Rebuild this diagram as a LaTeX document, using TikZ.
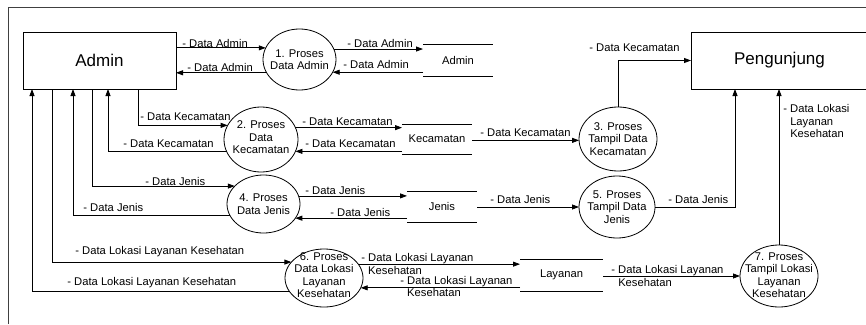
\documentclass[tikz,border=0pt]{standalone}
\usepackage{fontspec}
\setmainfont{Liberation Sans}
\usetikzlibrary{arrows.meta,positioning,shapes.geometric}
\newcommand{\lblfont}{\fontsize{11.2}{12.5}\selectfont}
\newcommand{\entfont}{\fontsize{17}{20}\selectfont}

\begin{document}
\begin{tikzpicture}[
  x=1pt, y=-1pt,
  line width=0.8pt,
  entity/.style={
    draw, rectangle, minimum height=57pt, font=\entfont,
    inner sep=0pt, outer sep=0pt,
  },
  proc/.style={draw, ellipse, inner sep=0pt, outer sep=0pt},
  ptext/.style={align=center, font=\lblfont, inner sep=0pt},
  store/.style={minimum width=70pt, inner sep=0pt, outer sep=0pt, font=\lblfont},
  lbl/.style={anchor=west, align=left, font=\lblfont, inner sep=0pt},
  flow/.style={-{Triangle[length=7pt,width=5pt]}},
]
\useasboundingbox (0,0) rectangle (866,324);
\clip (0,0) rectangle (866,324);

% frame
\draw[black!75] (8,324) -- (8,7) -- (866,7);

% entities
\node[entity, minimum width=153pt] (admin) at (99.5,60.5) {Admin};
\node[entity, minimum width=177pt] (peng) at (779.5,60.5) {Pengunjung};

% processes
\node[proc, minimum width=73pt, minimum height=61pt] (p1) at (299.5,59.5) {};
\node[proc, minimum width=74pt, minimum height=65pt] (p2) at (261,139.5) {};
\node[proc, minimum width=78pt, minimum height=64pt] (p3) at (618,139) {};
\node[proc, minimum width=73pt, minimum height=58pt] (p4) at (263.5,204) {};
\node[proc, minimum width=76pt, minimum height=62pt] (p5) at (617,207) {};
\node[proc, minimum width=78pt, minimum height=58pt] (p6) at (324,278) {};
\node[proc, minimum width=78pt, minimum height=62pt] (p7) at (779,276) {};

\node[ptext] (p1t) at (p1) {1. Proses\\Data Admin};
\node[ptext] (p2t) at ([yshift=2pt]p2) {2. Proses\\Data\\Kecamatan};
\node[ptext] (p3t) at (p3) {3. Proses\\Tampil Data\\Kecamatan};
\node[ptext] (p4t) at (p4) {4. Proses\\Data Jenis};
\node[ptext] (p5t) at (p5) {5. Proses\\Tampil Data\\Jenis};
\node[ptext] (p6t) at ([yshift=3pt]p6) {6. Proses\\Data Lokasi\\Layanan\\Kesehatan};
\node[ptext] (p7t) at ([yshift=1pt]p7) {7. Proses\\Tampil Lokasi\\Layanan\\Kesehatan};

% data stores
\node[store, minimum height=32pt] (sadmin) at (458,60) {Admin};
\node[store, minimum height=30pt] (skec) at (437,139) {Kecamatan};
\node[store, minimum height=31pt] (sjenis) at (442,206.5) {Jenis};
\node[store, minimum width=83pt, minimum height=32pt] (slay) at (561.5,275) {Layanan};
\foreach \s in {sadmin,skec,sjenis,slay}
  \draw (\s.north west) -- (\s.north east) (\s.south west) -- (\s.south east);

% admin flows
\draw[flow] (p1.161 -| admin.east) -- (p1.161);
\draw[flow] (p1.202) -- (p1.202 -| admin.east);
\draw[flow] (p1.17) -- (p1.17 -| sadmin.west);
\draw[flow] (p1.339 -| sadmin.west) -- (p1.339);

% kecamatan flows
\draw[flow] ([xshift=38.5pt]admin.south) |- (p2.157);
\draw[flow] (p2.199) -| ([xshift=8.5pt]admin.south);
\draw[flow] (p2.19) -- (p2.19 -| skec.west);
\draw[flow] (p2.341 -| skec.west) -- (p2.341);
\draw[flow] (p3.182 -| skec.east) -- (p3.182);
\draw[flow] (p3.north) |- (peng.west);

% jenis flows
\draw[flow] ([xshift=-7.5pt]admin.south) |- (p4.148);
\draw[flow] (p4.198) -| ([xshift=-26.5pt]admin.south);
\draw[flow] (p4.13) -- (p4.13 -| sjenis.west);
\draw[flow] (p4.336 -| sjenis.west) -- (p4.336);
\draw[flow] (p5.west -| sjenis.east) -- (p5.west);
\draw[flow] (p5.east) -| ([xshift=-44.5pt]peng.south);

% layanan flows
\draw[flow] ([xshift=-47.5pt]admin.south) |- (p6.154);
\draw[flow] (p6.202) -| ([xshift=-67.5pt]admin.south);
\draw[flow] (p6.22) -- (p6.22 -| slay.west);
\draw[flow] (p6.345 -| slay.west) -- (p6.345);
\draw[flow] (p7.west -| slay.east) -- (p7.west);
\draw[flow] (p7.north) -- (p7.north |- peng.south);

% labels
\node[lbl] (la1) at (182,43) {- Data Admin};
\node[lbl] (la2) at (187,67) {- Data Admin};
\node[lbl] (la3) at (347,43) {- Data Admin};
\node[lbl] (la4) at (343,64) {- Data Admin};
\node[lbl] (lk1) at (589,48) {- Data Kecamatan};
\node[lbl] (lk2) at (140,117) {- Data Kecamatan};
\node[lbl] (lk3) at (123,144) {- Data Kecamatan};
\node[lbl] (lk4) at (302,122) {- Data Kecamatan};
\node[lbl] (lk5) at (305,144) {- Data Kecamatan};
\node[lbl] (lk6) at (480,133) {- Data Kecamatan};
\node[lbl] (lj1) at (145,181) {- Data Jenis};
\node[lbl] (lj2) at (83,207) {- Data Jenis};
\node[lbl] (lj3) at (305,190) {- Data Jenis};
\node[lbl] (lj4) at (330,212) {- Data Jenis};
\node[lbl] (lj5) at (490,199) {- Data Jenis};
\node[lbl] (lj6) at (668,199) {- Data Jenis};
\node[lbl] (ll1) at (75,252) {- Data Lokasi Layanan Kesehatan};
\node[lbl] (ll2) at (67,283) {- Data Lokasi Layanan Kesehatan};
\node[lbl] (ll3) at (361,264) {- Data Lokasi Layanan\\\phantom{- }Kesehatan};
\node[lbl] (ll4) at (400,286.5) {- Data Lokasi Layanan\\\phantom{- }Kesehatan};
\node[lbl] (ll5) at (611,276) {- Data Lokasi Layanan\\\phantom{- }Kesehatan};
\node[lbl] (ll6) at (783,121) {- Data Lokasi\\\phantom{- }Layanan\\\phantom{- }Kesehatan};

\end{tikzpicture}
\end{document}
